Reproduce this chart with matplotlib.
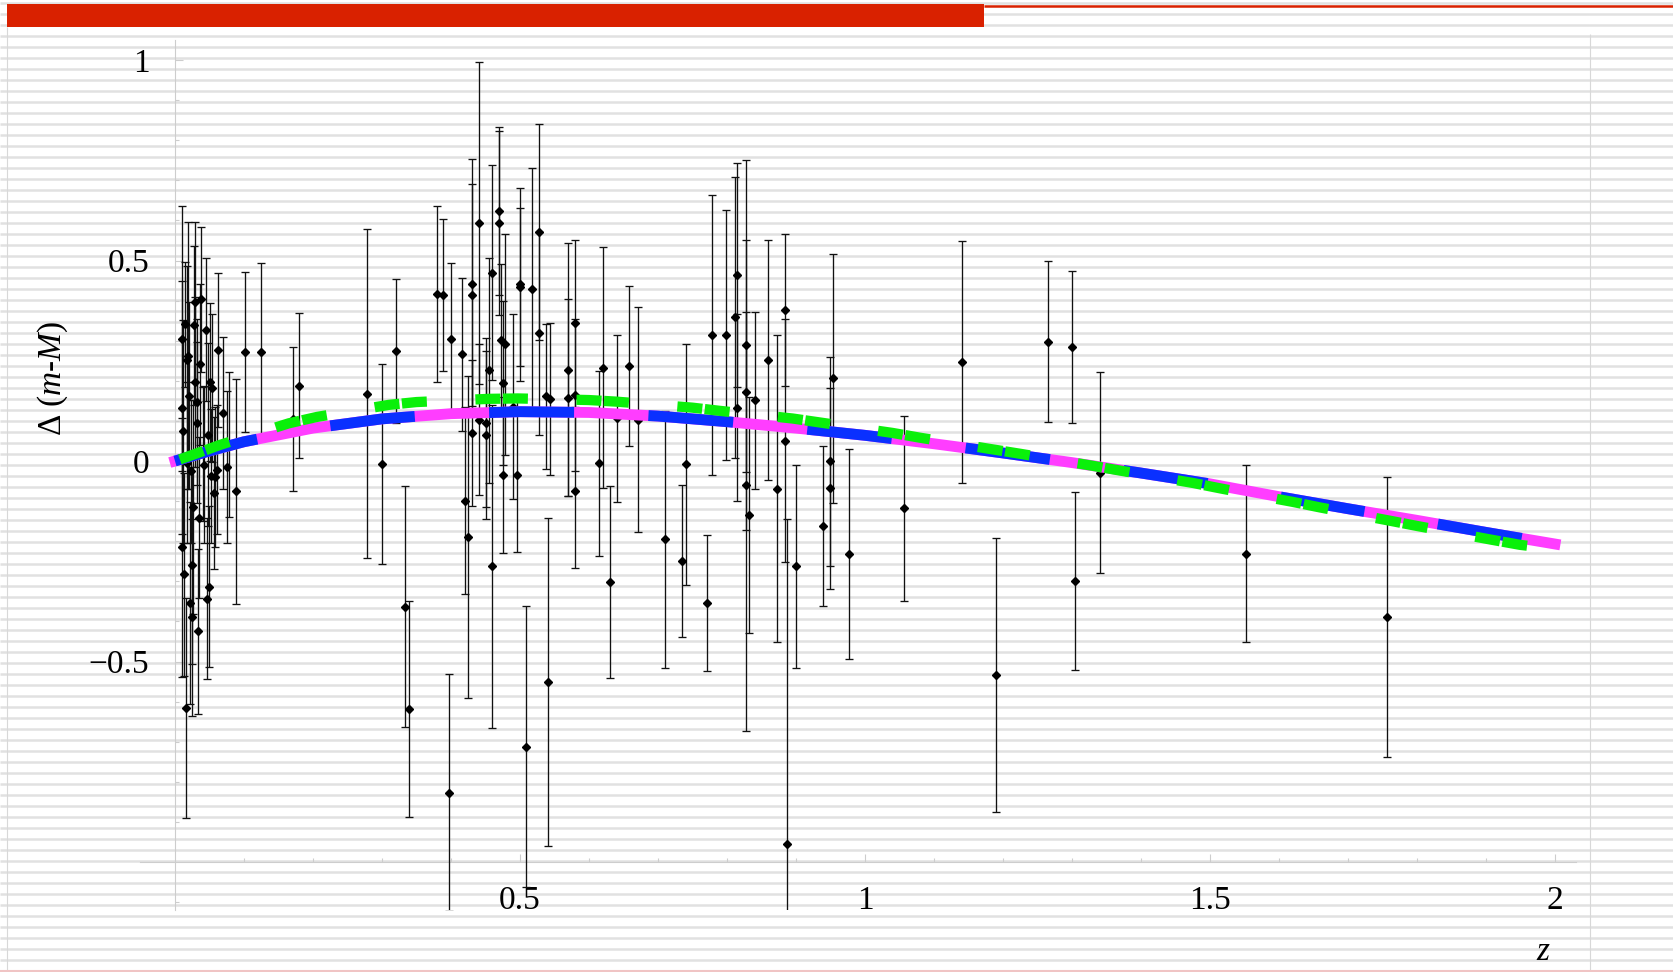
import matplotlib
matplotlib.use("Agg")
import matplotlib.pyplot as plt
from matplotlib.patches import Rectangle
import numpy as np

plt.rcParams["font.family"] = ["Liberation Serif", "DejaVu Serif"]
plt.rcParams["mathtext.fontset"] = "custom"
plt.rcParams["mathtext.rm"] = "Liberation Serif"
plt.rcParams["mathtext.it"] = "Liberation Serif:italic"
plt.rcParams["lines.scale_dashes"] = False

# supernova residuals: redshift, delta(m-M), 1-sigma error
z_sn = [
    0.0097, 0.0097, 0.0101, 0.0121, 0.0130, 0.0150, 0.0159, 0.0169, 0.0179, 0.0193,
    0.0208, 0.0217, 0.0227, 0.0242, 0.0251, 0.0266, 0.0275, 0.0285, 0.0295, 0.0314,
    0.0324, 0.0333, 0.0353, 0.0362, 0.0377, 0.0401, 0.0425, 0.0449, 0.0459, 0.0483,
    0.0493, 0.0507, 0.0517, 0.0541, 0.0565, 0.0580, 0.0614, 0.0628, 0.0700, 0.0749,
    0.0787, 0.0879, 0.1014, 0.1242,
    0.1715, 0.1802, 0.2787, 0.300, 0.3198, 0.3338, 0.3396, 0.3797, 0.388, 0.400,
    0.397, 0.416, 0.420, 0.425, 0.430, 0.430, 0.430, 0.4406, 0.4406, 0.4503,
    0.4503, 0.455, 0.460, 0.460, 0.470, 0.470, 0.472, 0.476, 0.476, 0.478,
    0.490, 0.495, 0.500, 0.500, 0.508, 0.518, 0.527, 0.527, 0.540, 0.538,
    0.543, 0.570, 0.570, 0.580, 0.580, 0.580, 0.615, 0.621, 0.630, 0.640,
    0.658, 0.671, 0.710, 0.735, 0.741, 0.771, 0.778, 0.798, 0.811, 0.815,
    0.815,
    0.8275, 0.8275, 0.8275, 0.832, 0.840, 0.860, 0.873, 0.884, 0.884, 0.8865,
    0.8995, 0.9396, 0.949, 0.949, 0.954, 0.977, 1.056, 1.140, 1.190, 1.265,
    1.300, 1.305, 1.340, 1.552, 1.756,
]
dm_sn = [
    0.305, 0.133, -0.215, 0.074, -0.282, 0.341, -0.616, 0.252, -0.004, 0.263,
    0.163, -0.354, -0.026, -0.260, -0.390, -0.115, 0.338, 0.397, 0.197, 0.096,
    0.147, -0.425, -0.141, 0.241, 0.403, 0.018, -0.009, 0.327, -0.343, 0.066,
    -0.313, 0.197, -0.037, 0.182, -0.080, -0.040, -0.022, 0.277, 0.119, -0.015,
    0.041, -0.076, 0.272, 0.272,
    0.105, 0.188, 0.168, -0.008, 0.274, -0.363, -0.619, 0.417, 0.414, 0.304,
    -0.827, 0.266, -0.099, -0.189, 0.441, 0.414, 0.070, 0.594, 0.103, 0.096,
    0.065, 0.226, 0.470, -0.263, 0.624, 0.594, 0.302, -0.035, 0.195, 0.291,
    0.135, -0.034, 0.441, 0.434, -0.712, 0.430, 0.571, 0.318, -0.551, 0.161,
    0.154, 0.228, 0.158, 0.343, 0.165, -0.075, -0.006, 0.233, -0.302, 0.106,
    0.237, 0.103, -0.195, -0.250, -0.008, -0.354, 0.314, 0.314, 0.358, 0.464,
    0.133,
    0.289, 0.172, -0.061, -0.135, 0.151, 0.252, -0.069, 0.376, 0.051, -0.954,
    -0.263, -0.162, -0.001, -0.068, 0.206, -0.232, -0.118, 0.247, -0.533, 0.298,
    0.284, -0.299, -0.029, -0.231, -0.389,
]
dm_err = [
    0.331, 0.315, 0.323, 0.278, 0.253, 0.156, 0.274, 0.234, 0.200, 0.334,
    0.234, 0.253, 0.178, 0.245, 0.245, 0.267, 0.198, 0.200, 0.212, 0.200,
    0.206, 0.206, 0.200, 0.200, 0.181, 0.167, 0.195, 0.178, 0.200, 0.228,
    0.200, 0.198, 0.167, 0.184, 0.189, 0.175, 0.161, 0.191, 0.189, 0.189,
    0.181, 0.281, 0.200, 0.221,
    0.179, 0.181, 0.410, 0.250, 0.179, 0.300, 0.270, 0.220, 0.190, 0.189,
    0.296, 0.190, 0.233, 0.402, 0.312, 0.278, 0.181, 0.401, 0.189, 0.211,
    0.210, 0.281, 0.268, 0.402, 0.209, 0.229, 0.190, 0.194, 0.205, 0.275,
    0.231, 0.192, 0.241, 0.196, 0.351, 0.301, 0.270, 0.253, 0.410, 0.181,
    0.189, 0.315, 0.246, 0.209, 0.190, 0.193, 0.231, 0.301, 0.240, 0.209,
    0.200, 0.280, 0.320, 0.190, 0.300, 0.170, 0.350, 0.311, 0.350, 0.280,
    0.233,
    0.462, 0.200, 0.613, 0.294, 0.221, 0.300, 0.382, 0.190, 0.302, 0.810,
    0.252, 0.200, 0.260, 0.250, 0.311, 0.261, 0.230, 0.301, 0.342, 0.200,
    0.190, 0.221, 0.251, 0.220, 0.350,
]

# model curves (magenta/blue drawn on the same curve, green slightly above)
z_model = [0.0, 0.05, 0.1, 0.2, 0.3, 0.4, 0.5, 0.6, 0.7, 0.8, 0.9,
           1.0, 1.1, 1.2, 1.3, 1.4, 1.5, 1.6, 1.7, 1.8, 1.9, 2.0]
dm_model = [0.0, 0.025, 0.048, 0.082, 0.105, 0.118, 0.123, 0.121, 0.112, 0.098, 0.082,
            0.064, 0.043, 0.020, -0.004, -0.030, -0.057, -0.089, -0.119, -0.148, -0.178, -0.207]
z_alt = [0.007, 0.025, 0.065, 0.165, 0.206, 0.31, 0.35, 0.455, 0.497, 0.60, 0.64,
         0.75, 0.79, 0.895, 0.935, 1.04, 1.08, 1.185, 1.225, 1.33, 1.37, 1.476,
         1.517, 1.62, 1.66, 1.764, 1.80, 1.907, 1.949, 1.968]
dm_alt = [0.004, 0.015, 0.040, 0.094, 0.110, 0.140, 0.147, 0.155, 0.156, 0.152, 0.148,
          0.133, 0.125, 0.106, 0.096, 0.070, 0.058, 0.029, 0.018, -0.012, -0.024, -0.055,
          -0.069, -0.102, -0.116, -0.150, -0.162, -0.196, -0.209, -0.213]

x_ticks = [0.5, 1, 1.5, 2]
x_tick_labels = ["0.5", "1", "1.5", "2"]
y_ticks = [-0.5, 0, 0.5, 1]
y_tick_labels = ["\u22120.5", "0", "0.5", "1"]

# pixel layout of the slide
W, H = 1673, 972
X0, PX_PER_Z = 175.0, 690.0
Y0, PX_PER_DM = 461.0, 401.0
XLIM = (-0.06, 2.06)
YLIM = (-1.12, 1.06)
AXIS_GRAY = "#cdcdcd"

fig = plt.figure(figsize=(W / 100, H / 100), dpi=100)

# background: lined paper, red title bar
bg = fig.add_axes([0, 0, 1, 1], zorder=0)
bg.set_xlim(0, W)
bg.set_ylim(H, 0)
bg.axis("off")
bg.hlines(np.arange(3, H, 11), 0, W, color="#e1e1e1", lw=1.8, zorder=1)
bg.vlines([7], 27, H, color="#d8d8d8", lw=0.8, zorder=2)
bg.vlines([1590], 34, H, color="#d8d8d8", lw=0.8, zorder=2)
bg.plot([984, W], [6, 6], color="#d92100", lw=1.8, solid_capstyle="butt", zorder=3)
bg.add_patch(Rectangle((7, 4), 977, 23, facecolor="#d92100", lw=0, zorder=4))
bg.hlines([971], 0, W, color="#f0c4c4", lw=1.5, zorder=2)

left = X0 + PX_PER_Z * XLIM[0]
right = X0 + PX_PER_Z * XLIM[1]
top = Y0 - PX_PER_DM * YLIM[1]
bottom = Y0 - PX_PER_DM * YLIM[0]
ax = fig.add_axes([left / W, 1 - bottom / H, (right - left) / W, (bottom - top) / H], zorder=1)
ax.patch.set_visible(False)
ax.set_xlim(*XLIM)
ax.set_ylim(*YLIM)

for side in ("top", "right"):
    ax.spines[side].set_visible(False)
ax.spines["left"].set_position(("data", 0))
ax.spines["bottom"].set_position(("data", -1))
ax.spines["left"].set_bounds(-1.12, 1.05)
ax.spines["bottom"].set_bounds(-0.051, 2.03)
for side in ("left", "bottom"):
    ax.spines[side].set_color(AXIS_GRAY)
    ax.spines[side].set_linewidth(0.8)

ax.set_xticks(x_ticks, x_tick_labels)
ax.set_yticks(y_ticks, y_tick_labels)
ax.set_xticks([t / 10 for t in range(1, 21) if t % 5], minor=True)
ax.set_yticks([t / 10 for t in range(-11, 11) if t % 5], minor=True)
ax.tick_params(which="both", direction="in", color=AXIS_GRAY, width=0.8, labelsize=24)
ax.tick_params(which="major", length=5.8)
ax.tick_params(which="minor", length=2.9)
ax.tick_params(axis="x", pad=17)
ax.tick_params(axis="y", pad=18.5)

ax.errorbar(z_sn, dm_sn, yerr=dm_err, fmt="D", ms=3.8, color="black", ecolor="#111111",
            elinewidth=0.95, capsize=2.6, capthick=0.95, zorder=3)

ax.plot(z_model, dm_model, color="#ff3dff", lw=7.8, solid_capstyle="projecting", zorder=4)
ax.plot(z_model, dm_model, color="#0a30ff", lw=7.8, dashes=[61.2, 53.6],
        dash_capstyle="butt", zorder=5)
ax.plot(z_alt, dm_alt, color="#0af00a", lw=7.4, dashes=[18, 1.8, 18, 35.0],
        dash_capstyle="butt", zorder=6)

bg.text(53, 378, r"$\Delta\ \mathit{(m}$-$\mathit{M)}$", rotation=90, fontsize=24,
        ha="center", va="center")
bg.text(1543, 952, "z", fontstyle="italic", fontsize=24, ha="center", va="center")

fig.savefig("out.png", dpi=100)
